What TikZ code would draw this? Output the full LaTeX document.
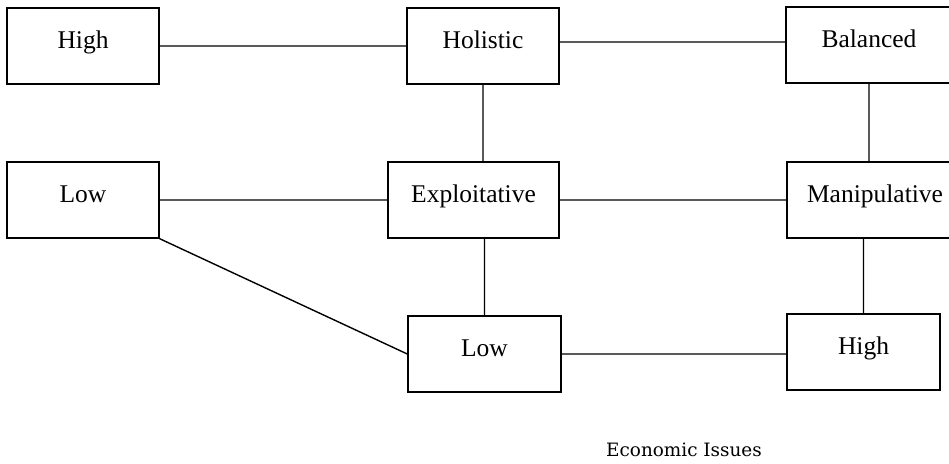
\documentclass[tikz,border=0pt]{standalone}
\usepackage{fontspec}
\setmainfont{Liberation Serif}
\newfontfamily\captionfont{DejaVu Serif}
\usepackage{tikz}

\begin{document}
\begin{tikzpicture}[x=0.5pt,y=-0.5pt,line width=0.7pt,
        box/.style={draw,rectangle,inner sep=0pt,minimum height=38pt,
            font=\fontsize{12.75}{15}\selectfont,text height=9pt,text depth=6.5pt}]
    \useasboundingbox (0,0) rectangle (949,463);
    \node[box,minimum width=76pt] (high1) at (83,46) {High};
    \node[box,minimum width=76pt] (holistic) at (483,46) {Holistic};
    \node[box,minimum width=83pt] (balanced) at (869,45) {Balanced};
    \node[box,minimum width=76pt] (low1) at (83,200) {Low};
    \node[box,minimum width=85.5pt] (exploit) at (473.5,200) {Exploitative};
    \node[box,minimum width=88pt] (manip) at (875,200) {Manipulative};
    \node[box,minimum width=76.5pt] (low2) at (484.5,354) {Low};
    \node[box,minimum width=76.5pt] (high2) at (863.5,352) {High};
    \node[font=\captionfont\fontsize{9.2}{11}\selectfont] (econ) at (684,450) {Economic Issues};
    \draw (high1.east) -- (holistic.west)
          ([yshift=2pt]holistic.east) -- ([yshift=1.5pt]balanced.west)
          (low1.east) -- (exploit.west)
          (exploit.east) -- (manip.west)
          (holistic.south) -- (holistic.south |- exploit.north)
          (balanced.south) -- (balanced.south |- manip.north)
          (low2.north) -- (low2.north |- exploit.south)
          (high2.north) -- (high2.north |- manip.south)
          (low1.south east) -- (low2.west)
          (low2.east) -- (low2.east -| high2.west);
\end{tikzpicture}
\end{document}
